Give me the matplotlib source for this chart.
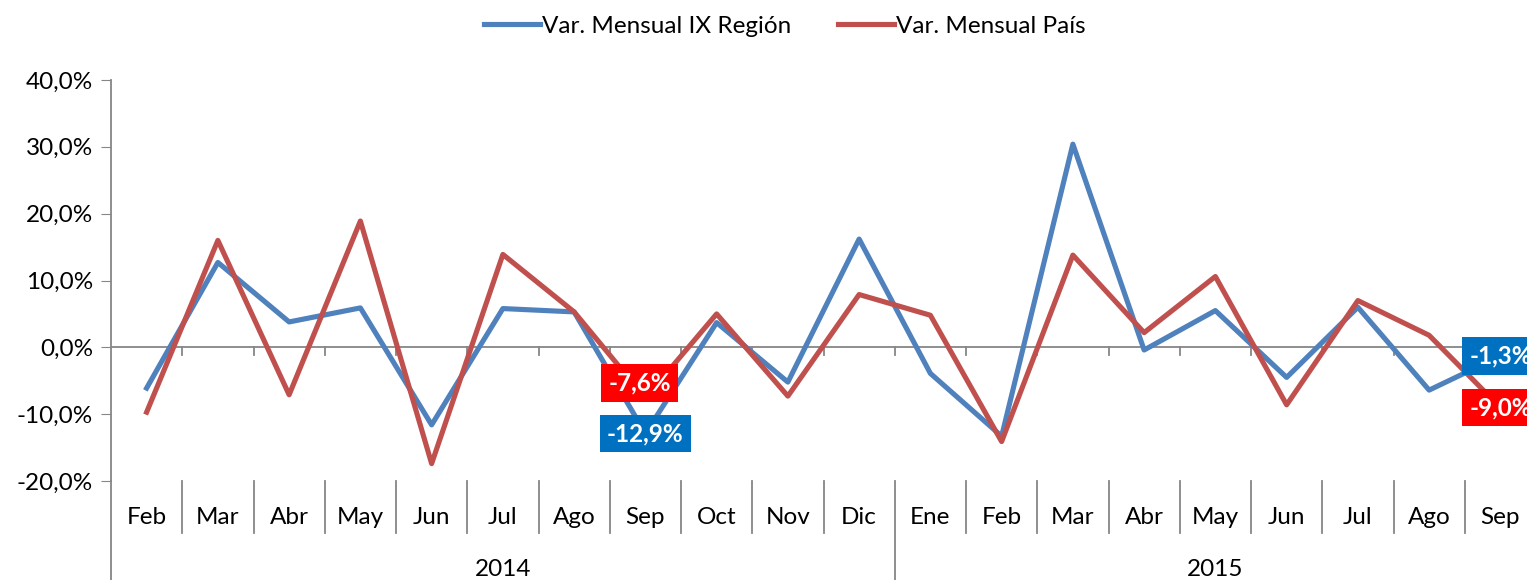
import matplotlib.pyplot as plt
from matplotlib.ticker import FuncFormatter

months = ["Feb", "Mar", "Abr", "May", "Jun", "Jul", "Ago", "Sep", "Oct", "Nov", "Dic",
          "Ene", "Feb", "Mar", "Abr", "May", "Jun", "Jul", "Ago", "Sep"]
years = ["2014", "2015"]
year_counts = [11, 9]
region = [-6.1, 12.7, 3.8, 5.9, -11.6, 5.8, 5.3, -12.9, 3.7, -5.2, 16.2,
          -3.9, -13.3, 30.4, -0.4, 5.5, -4.5, 6.0, -6.4, -1.3]
pais = [-9.7, 16.0, -7.1, 18.9, -17.4, 13.9, 5.3, -7.6, 5.0, -7.3, 7.9,
        4.8, -14.1, 13.8, 2.2, 10.6, -8.6, 7.0, 1.8, -9.0]
labels_region = {7: "-12,9%", 19: "-1,3%"}
labels_pais = {7: "-7,6%", 19: "-9,0%"}

plt.rcParams['font.family'] = ['Lato', 'DejaVu Sans']
blue, red = "#4F81BD", "#C0504D"
gray = "#868686"
fs = 17.5

fig = plt.figure(figsize=(15.27, 5.8), dpi=100)
ax = fig.add_axes([111 / 1527, 99 / 580, 1425 / 1527, 401 / 580])
x = list(range(len(months)))

ax.plot(x, region, color=blue, lw=3.7, label="Var. Mensual IX Región", zorder=3)
ax.plot(x, pais, color=red, lw=3.7, label="Var. Mensual País", zorder=3)

ax.set_xlim(-0.5, len(months) - 0.5)
ax.set_ylim(-20, 40)
ax.set_yticks([-20, -10, 0, 10, 20, 30, 40])
ax.yaxis.set_major_formatter(FuncFormatter(lambda v, p: f"{v:.1f}%".replace(".", ",")))
ax.tick_params(axis='y', labelsize=fs, length=7, color=gray, direction='out', pad=6)
ax.set_xticks([])
for s in ["top", "right", "bottom"]:
    ax.spines[s].set_visible(False)
ax.spines["left"].set_color(gray)
ax.spines["left"].set_linewidth(1.3)

# eje en cero con marcas
ax.axhline(0, color=gray, lw=1.3, zorder=1)
for b in range(1, len(months)):
    ax.plot([b - 0.5, b - 0.5], [0, -1.2], color=gray, lw=1.3, zorder=1)

# zona de categorias bajo el grafico
tr = ax.get_xaxis_transform()
ext = 99 / 401
ax.plot([-0.5, -0.5], [0, -ext], transform=tr, color=gray, lw=1.3, clip_on=False)
for i, m in enumerate(months):
    ax.text(i, -37 / 401, m, transform=tr, ha="center", va="center", fontsize=fs)
for b in range(1, len(months)):
    end = -ext if b == year_counts[0] else -52 / 401
    ax.plot([b - 0.5, b - 0.5], [0, end], transform=tr, color=gray, lw=1.3, clip_on=False)
start = 0
for yname, n in zip(years, year_counts):
    ax.text(start + (n - 1) / 2, -88 / 401, yname, transform=tr, ha="center",
            va="center", fontsize=fs)
    start += n

# etiquetas de datos
for i, t in labels_region.items():
    ax.annotate(t, (i, region[i]), xytext=(0, 0), textcoords="offset points",
                ha="center", va="center", color="white", fontsize=fs, fontweight="bold",
                bbox=dict(boxstyle="square,pad=0.3", fc="#0070C0", ec="none"), zorder=5)
for i, t in labels_pais.items():
    off = (-4, 11) if i == 7 else (0, 0)
    ax.annotate(t, (i, pais[i]), xytext=off, textcoords="offset points",
                ha="center", va="center", color="white", fontsize=fs, fontweight="bold",
                bbox=dict(boxstyle="square,pad=0.3", fc="#FF0000", ec="none"), zorder=5)

fig.legend(loc="center", bbox_to_anchor=(785 / 1527, 1 - 26 / 580), ncol=2, frameon=False,
           fontsize=fs, handlelength=2.3, handletextpad=0.1, columnspacing=1.9)

fig.savefig("out.png", dpi=100)
